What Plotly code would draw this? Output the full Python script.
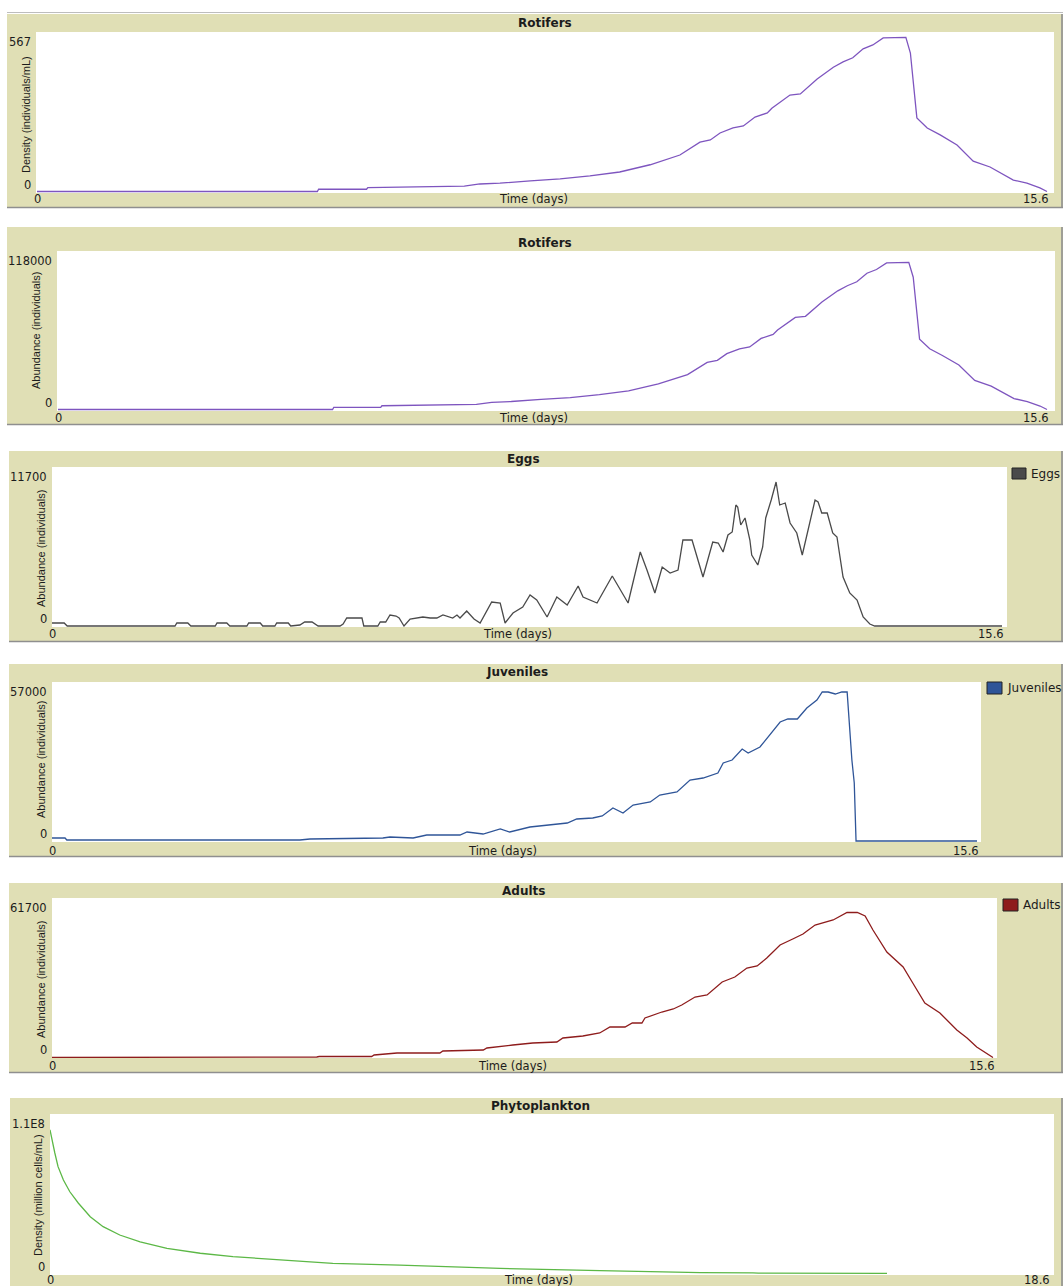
import plotly.graph_objects as go

W, H = 1063, 1286

# ---------------- data: (time in days, value) ----------------
rotifer_density = [
    (0, 0), (4.33, 0), (4.35, 8), (5.09, 8), (5.11, 14), (5.9, 17), (6.6, 19), (6.84, 27),
    (7.15, 30), (7.62, 38), (8.08, 45), (8.54, 56), (9.0, 70), (9.47, 96), (9.93, 131),
    (10.24, 177), (10.40, 185), (10.55, 210), (10.75, 228), (10.91, 235), (11.09, 267),
    (11.28, 282), (11.35, 299), (11.63, 346), (11.79, 350), (12.05, 404), (12.30, 446),
    (12.45, 465), (12.60, 480), (12.76, 512), (12.91, 526), (13.07, 551), (13.22, 553),
    (13.42, 553), (13.49, 497), (13.56, 329), (13.59, 264), (13.75, 228), (13.95, 203),
    (14.21, 167), (14.46, 109), (14.72, 88), (15.08, 41), (15.29, 30), (15.49, 13), (15.6, 0),
]

rotifer_abundance = [
    (0, 0), (4.33, 0), (4.35, 1600), (5.09, 1600), (5.11, 2800), (5.9, 3400), (6.6, 3800),
    (6.84, 5400), (7.15, 6000), (7.62, 7600), (8.08, 9000), (8.54, 11200), (9.0, 14000),
    (9.47, 19200), (9.93, 26200), (10.24, 35400), (10.40, 37000), (10.55, 42000),
    (10.75, 45600), (10.91, 47000), (11.09, 53400), (11.28, 56400), (11.35, 59800),
    (11.63, 69200), (11.79, 70000), (12.05, 80800), (12.30, 89200), (12.45, 93000),
    (12.60, 96000), (12.76, 102400), (12.91, 105200), (13.07, 110200), (13.22, 110600),
    (13.42, 110600), (13.49, 99400), (13.56, 65800), (13.59, 52800), (13.75, 45600),
    (13.95, 40600), (14.21, 33400), (14.46, 21800), (14.72, 17600), (15.08, 8200),
    (15.29, 6000), (15.49, 2600), (15.6, 0),
]

eggs = [
    (0, 223), (0.20, 223), (0.25, 0), (2.02, 0), (2.05, 223), (2.23, 223), (2.28, 0),
    (2.68, 0), (2.71, 223), (2.87, 223), (2.92, 0), (3.20, 0), (3.23, 223), (3.42, 223),
    (3.46, 0), (3.66, 0), (3.69, 223), (3.88, 223), (3.92, 0), (4.07, 74), (4.15, 297),
    (4.27, 297), (4.37, 0), (4.73, 0), (4.78, 149), (4.84, 594), (5.09, 594), (5.12, 0),
    (5.35, 0), (5.39, 297), (5.48, 297), (5.55, 817), (5.65, 743), (5.70, 594), (5.78, 0),
    (5.88, 520), (6.09, 669), (6.21, 594), (6.32, 594), (6.42, 817), (6.58, 594),
    (6.65, 817), (6.70, 594), (6.81, 1114), (6.93, 520), (7.03, 223), (7.22, 1783),
    (7.36, 1709), (7.44, 223), (7.57, 966), (7.73, 1412), (7.85, 2303), (7.96, 1932),
    (8.13, 669), (8.29, 2154), (8.46, 1560), (8.64, 2972), (8.72, 2154), (8.95, 1709),
    (9.20, 3715), (9.46, 1709), (9.66, 5497), (9.77, 4160), (9.90, 2452), (10.02, 4383),
    (10.15, 3937), (10.28, 4160), (10.36, 6389), (10.51, 6389), (10.64, 4383),
    (10.69, 3640), (10.85, 6240), (10.94, 6166), (11.02, 5497), (11.10, 6760),
    (11.17, 6983), (11.23, 8989), (11.26, 8841), (11.31, 7503), (11.38, 8023),
    (11.46, 6389), (11.49, 5275), (11.59, 4532), (11.67, 5869), (11.72, 8023),
    (11.81, 9361), (11.89, 10698), (11.95, 8989), (12.04, 9138), (12.12, 7652),
    (12.23, 6909), (12.32, 5275), (12.41, 7132), (12.53, 9361), (12.58, 9212),
    (12.64, 8395), (12.73, 8395), (12.82, 6909), (12.89, 6612), (12.99, 3640),
    (13.10, 2452), (13.22, 1932), (13.32, 669), (13.43, 149), (13.51, 0), (15.6, 0),
]

juveniles = [
    (0, 1086), (0.22, 1086), (0.25, 362), (4.18, 362), (4.35, 724), (5.58, 1086),
    (5.70, 1448), (6.09, 1086), (6.32, 2171), (6.88, 2171), (7.00, 3257), (7.27, 2533),
    (7.56, 4343), (7.72, 3257), (8.06, 5067), (8.69, 6514), (8.85, 7962), (9.12, 8324),
    (9.28, 9048), (9.46, 11943), (9.63, 10133), (9.80, 13028), (10.09, 14114),
    (10.25, 16647), (10.54, 17733), (10.63, 19543), (10.76, 22076), (10.98, 22800),
    (11.23, 24609), (11.32, 28228), (11.47, 29314), (11.64, 33295), (11.74, 31847),
    (11.94, 34019), (12.08, 37638), (12.28, 43066), (12.41, 44152), (12.57, 44152),
    (12.73, 48133), (12.90, 51028), (12.99, 53923), (13.09, 53923), (13.21, 53199),
    (13.32, 53923), (13.41, 53923), (13.44, 44514), (13.49, 29314), (13.53, 20990),
    (13.56, 0), (15.6, 0),
]

adults = [
    (0, 0), (3.20, 0), (3.23, 195), (4.39, 195), (4.43, 390), (5.30, 390), (5.34, 976),
    (5.72, 1757), (6.43, 1757), (6.48, 2538), (7.15, 2929), (7.21, 3710), (7.64, 4881),
    (7.97, 5662), (8.37, 6053), (8.47, 7615), (8.80, 8396), (9.08, 9567), (9.25, 11910),
    (9.50, 11910), (9.62, 13472), (9.78, 13472), (9.83, 15425), (10.11, 17768),
    (10.30, 18939), (10.44, 20501), (10.66, 23625), (10.86, 24406), (11.11, 29483),
    (11.32, 31435), (11.52, 34950), (11.69, 35731), (11.85, 38855), (12.07, 43931),
    (12.28, 46274), (12.45, 48227), (12.65, 51741), (12.95, 53694), (13.18, 56623),
    (13.35, 56623), (13.48, 55256), (13.61, 49789), (13.84, 41198), (14.11, 35340),
    (14.27, 29092), (14.47, 21282), (14.72, 17377), (15.00, 10739), (15.17, 7615),
    (15.33, 4100), (15.6, 0),
]

phytoplankton = [
    (0, 1.0e8), (0.03, 9.41e7), (0.09, 8.39e7), (0.15, 7.44e7), (0.25, 6.51e7),
    (0.37, 5.69e7), (0.53, 4.89e7), (0.75, 3.95e7), (0.99, 3.26e7), (1.30, 2.68e7),
    (1.68, 2.21e7), (2.18, 1.75e7), (2.80, 1.41e7), (3.41, 1.17e7), (4.34, 9.4e6),
    (5.27, 7.1e6), (6.52, 5.9e6), (8.39, 3.5e6), (10.25, 2.0e6), (12.12, 6.0e5),
    (13.10, 5.0e5), (13.20, 2.0e5), (15.6, 1.0e5),
]

panel_titles = ["Rotifers", "Rotifers", "Eggs", "Juveniles", "Adults", "Phytoplankton"]
y_titles = [
    "Density (individuals/mL)", "Abundance (individuals)", "Abundance (individuals)",
    "Abundance (individuals)", "Abundance (individuals)", "Density (million cells/mL)",
]
y_max = [567, 118000, 11700, 57000, 61700, 1.1e8]
y_max_labels = ["567", "118000", "11700", "57000", "61700", "1.1E8"]
x_max = [15.6, 15.6, 15.6, 15.6, 15.6, 18.6]
x_max_labels = ["15.6", "15.6", "15.6", "15.6", "15.6", "18.6"]
x_title = "Time (days)"
legend_names = [None, None, "Eggs", "Juveniles", "Adults", None]
line_colors = ["#7e55bf", "#7e55bf", "#4a4a4a", "#2f5598", "#8e1c1c", "#5cb846"]

series = [rotifer_density, rotifer_abundance, eggs, juveniles, adults, phytoplankton]

# ---------------- widget geometry (pixels) ----------------
# box: tan frame, plot: white drawing area, dx: x-pixel of 0 and of x max,
# zero/top: y-pixel of 0 and of y max, xl: y-pixel of the x labels row
panels = [
    dict(box=(7, 14, 1063, 208), plot=(36, 32, 1054, 193), dx=(37, 1047), zero=191.5, top=33.5,
         title=(545, 23), xl=199.5, xt=533, yt=(26, 115), legend=None),
    dict(box=(7, 227, 1063, 425), plot=(57, 251, 1055, 411), dx=(58, 1047), zero=409.5, top=252.5,
         title=(545, 243), xl=418, xt=533, yt=(36, 331), legend=None),
    dict(box=(9, 451, 1063, 642), plot=(52, 467, 1007, 627), dx=(52, 1002), zero=626, top=468.5,
         title=(523, 459), xl=634, xt=517, yt=(41, 549), legend=(1012, 468, 1026, 479)),
    dict(box=(9, 664, 1063, 857), plot=(52, 682, 981, 842), dx=(52, 977), zero=841, top=683.5,
         title=(517, 672), xl=851, xt=502, yt=(41, 760), legend=(987, 682, 1002, 694)),
    dict(box=(9, 883, 1063, 1073), plot=(52, 898, 997, 1058), dx=(52, 993), zero=1057.5, top=899.5,
         title=(523, 891), xl=1066, xt=512, yt=(41, 980), legend=(1003, 899, 1018, 911)),
    dict(box=(10, 1098, 1063, 1292), plot=(50, 1114, 1054, 1275), dx=(50, 1048), zero=1273.5, top=1115.5,
         title=(540, 1106), xl=1279.5, xt=538, yt=(38, 1195), legend=None),
]

TAN = "#e0dfb5"
TEXT = "#1c1c1c"
FONT = "DejaVu Sans"


def px(x):
    return x / W


def py(y):
    return 1 - y / H


fig = go.Figure()
shapes, annotations = [], []
axes = {}


def txt(text, x, y, size=11.5, anchor="center", family=FONT, **kw):
    d = dict(text=text, x=x, y=y, xref="paper", yref="paper", showarrow=False,
             xanchor=anchor, yanchor="middle", font=dict(family=family, size=size, color=TEXT))
    d.update(kw)
    annotations.append(d)


for i, (data, g) in enumerate(zip(series, panels), start=1):
    sfx = "" if i == 1 else str(i)
    xname, yname = "x" + sfx, "y" + sfx
    bx0, by0, bx1, by1 = g["box"]
    wx0, wy0, wx1, wy1 = g["plot"]
    dx0, dx1 = g["dx"]

    # frame and drawing area
    shapes.append(dict(type="rect", xref="paper", yref="paper", layer="below",
                       x0=px(bx0), x1=px(bx1), y0=py(by1), y1=py(by0),
                       fillcolor=TAN, line=dict(width=0)))
    shapes.append(dict(type="rect", xref="paper", yref="paper", layer="below",
                       x0=px(wx0), x1=px(wx1), y0=py(wy1), y1=py(wy0),
                       fillcolor="white", line=dict(width=0)))
    shapes.append(dict(type="line", xref="paper", yref="paper", layer="below",
                       x0=px(bx0), x1=px(bx1), y0=py(by1 - 0.5), y1=py(by1 - 0.5),
                       line=dict(color="#8f8f8f", width=1.6)))
    shapes.append(dict(type="line", xref="paper", yref="paper", layer="below",
                       x0=px(bx1 - 1), x1=px(bx1 - 1), y0=py(by1), y1=py(by0),
                       line=dict(color="#8f8f8f", width=1.6)))

    # axis scales so that 0 / max land on the widget's data pixels
    sx = (dx1 - dx0) / x_max[i - 1]
    sy = (g["zero"] - g["top"]) / y_max[i - 1]
    axes["xaxis" + sfx] = dict(
        domain=[px(wx0), px(wx1)],
        range=[(wx0 - dx0) / sx, (wx1 - dx0) / sx],
        anchor=yname, visible=False, fixedrange=True,
    )
    axes["yaxis" + sfx] = dict(
        domain=[py(wy1), py(wy0)],
        range=[-(wy1 - g["zero"]) / sy, (g["zero"] - wy0) / sy],
        anchor=xname, visible=False, fixedrange=True,
    )

    fig.add_trace(go.Scatter(
        x=[p[0] for p in data], y=[p[1] for p in data],
        mode="lines", line=dict(color=line_colors[i - 1], width=1.3),
        xaxis=xname, yaxis=yname, showlegend=False, hoverinfo="skip",
    ))

    # title
    txt("<b>" + panel_titles[i - 1] + "</b>", px(g["title"][0]), py(g["title"][1]), size=12)
    # y-axis title
    txt(y_titles[i - 1], px(g["yt"][0]), py(g["yt"][1]), size=11, family="Liberation Sans",
        textangle=-90)
    # y tick labels (min / max)
    txt(y_max_labels[i - 1], px(wx0 - 3), py(wy0 + 10), anchor="right")
    txt("0", px(wx0 - 3), py(wy1 - 8), anchor="right")
    # x tick labels (min / max)
    annotations.append(dict(text="0", x=0, xref=xname, y=py(g["xl"]), yref="paper",
                            showarrow=False, xanchor="center", yanchor="middle",
                            font=dict(family=FONT, size=11.5, color=TEXT)))
    annotations.append(dict(text=x_max_labels[i - 1], x=x_max[i - 1], xref=xname, xshift=4,
                            y=py(g["xl"]), yref="paper", showarrow=False,
                            xanchor="right", yanchor="middle",
                            font=dict(family=FONT, size=11.5, color=TEXT)))
    # x-axis title
    txt(x_title, px(g["xt"]), py(g["xl"]), size=11.5)

    # legend swatch + name
    if legend_names[i - 1]:
        lx0, ly0, lx1, ly1 = g["legend"]
        shapes.append(dict(type="rect", xref="paper", yref="paper",
                           x0=px(lx0), x1=px(lx1), y0=py(ly1), y1=py(ly0),
                           fillcolor=line_colors[i - 1], line=dict(color="#222222", width=1)))
        txt(legend_names[i - 1], px(lx1 + 3), py((ly0 + ly1) / 2), size=12, anchor="left")

# thin light rule above the first widget
shapes.append(dict(type="line", xref="paper", yref="paper", layer="below",
                   x0=px(7), x1=px(1063), y0=py(12.5), y1=py(12.5),
                   line=dict(color="#bdbdbd", width=1.2)))

fig.update_layout(
    width=W, height=H, autosize=False,
    margin=dict(l=0, r=0, t=0, b=0, pad=0),
    paper_bgcolor="white", plot_bgcolor="rgba(0,0,0,0)",
    shapes=shapes, annotations=annotations, showlegend=False,
    **axes,
)

fig.write_html("out.html", config={"displayModeBar": False, "staticPlot": True},
               post_script="document.body.style.margin='0';")
